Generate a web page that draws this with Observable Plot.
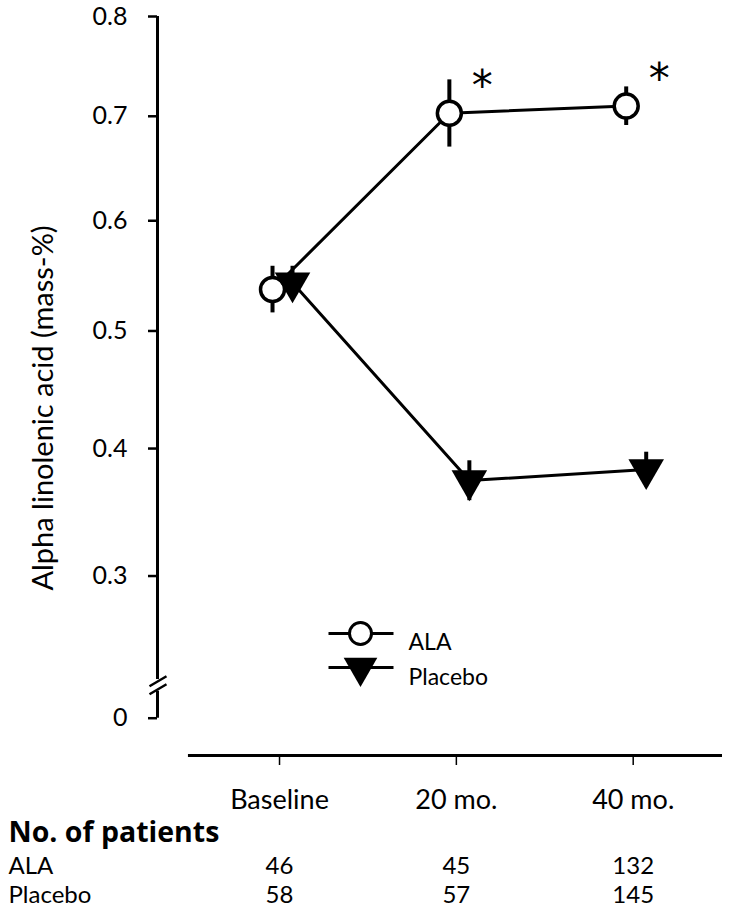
<!DOCTYPE html>
<html><head><meta charset="utf-8">
<script src="https://cdn.jsdelivr.net/npm/d3@7"></script>
<script src="https://cdn.jsdelivr.net/npm/@observablehq/plot@0.6"></script>
<style>
body{margin:0;background:#fff;}
#chart svg{display:block;overflow:visible;}
</style></head><body><div id="chart"></div>
<script>
// ---- data ----
const timepoints = ["Baseline", "20 mo.", "40 mo."];
const alaMean = [0.537, 0.703, 0.710];
const alaErr = [0.021, 0.033, 0.019];
const placeboMean = [0.543, 0.374, 0.383];
const placeboErr = [0.015, 0.016, 0.014];
const significant = [false, true, true];
const seriesNames = ["ALA", "Placebo"];
const yTickValues = [0.2, 0.3, 0.4, 0.5, 0.6, 0.7, 0.8];
const yTickLabels = ["0", "0.3", "0.4", "0.5", "0.6", "0.7", "0.8"];
const yTitle = "Alpha linolenic acid (mass-%)";
const tableTitle = "No. of patients";
const patientsALA = [46, 45, 132];
const patientsPlacebo = [58, 57, 145];

// ---- build tables ----
const ala = timepoints.map((t, i) => ({i, t, mean: alaMean[i], err: alaErr[i], sig: significant[i]}));
const placebo = timepoints.map((t, i) => ({i, t, mean: placeboMean[i], err: placeboErr[i]}));
const tickLabel = new Map(yTickValues.map((v, i) => [v, yTickLabels[i]]));

const xDomain = [-0.69, 2.505];
const yDomain = [0.176, 0.8];
const xAxisStart = -0.515;
const breakLo = 0.218, breakHi = 0.226, breakMid = 0.222;
const dxALA = -7, dxPlacebo = 13;

const slashSymbol = {draw(ctx) {
  ctx.moveTo(-8, 1); ctx.lineTo(9, -9);
  ctx.moveTo(-8, 9); ctx.lineTo(9, -1);
}};
const legendLine = {draw(ctx) { ctx.moveTo(-32, 0); ctx.lineTo(33, 0); }};
const font = "Lato, 'Open Sans', sans-serif";

const chart = Plot.plot({
  width: 732,
  height: 917,
  marginLeft: 157,
  marginRight: 10,
  marginTop: 16,
  marginBottom: 162,
  style: {fontFamily: font, fontSize: "24px", color: "black", background: "white"},
  x: {type: "linear", domain: xDomain},
  y: {type: "pow", exponent: 0.68, domain: yDomain},
  marks: [
    // axes
    Plot.ruleX([xDomain[0]], {y1: yTickValues[0], y2: breakLo, stroke: "black", strokeWidth: 3}),
    Plot.ruleX([xDomain[0]], {y1: breakHi, y2: yDomain[1], stroke: "black", strokeWidth: 3}),
    Plot.dot([breakMid], {x: xDomain[0], y: d => d, symbol: slashSymbol, fill: "none", stroke: "black", strokeWidth: 2.5}),
    Plot.axisY({ticks: yTickValues, tickFormat: d => tickLabel.get(d), tickSize: 9, tickPadding: 21, fontSize: 25, strokeWidth: 2.5, label: null}),
    Plot.ruleY([yDomain[0]], {x1: xAxisStart, x2: xDomain[1], stroke: "black", strokeWidth: 3}),
    Plot.axisX({ticks: [0, 1, 2], tickFormat: i => timepoints[i], tickSize: 10, tickPadding: 24, fontSize: 27, strokeWidth: 1.5, label: null}),
    Plot.text([yTitle], {frameAnchor: "left", rotate: -90, dx: -114, dy: 22, fontSize: 29, textAnchor: "middle", lineAnchor: "middle", text: d => d}),

    // series lines
    Plot.line(ala, {x: "i", y: "mean", dx: dxALA, stroke: "black", strokeWidth: 3}),
    Plot.line(placebo, {x: "i", y: "mean", dx: dxPlacebo, stroke: "black", strokeWidth: 3}),
    // ALA
    Plot.ruleX(ala, {x: "i", y1: d => d.mean - d.err, y2: d => d.mean + d.err, dx: dxALA, stroke: "black", strokeWidth: 4}),
    Plot.dot(ala, {x: "i", y: "mean", dx: dxALA, r: 12, fill: "white", stroke: "black", strokeWidth: 3.5}),
    // Placebo
    Plot.ruleX(placebo, {x: "i", y1: d => d.mean - d.err, y2: d => d.mean + d.err, dx: dxPlacebo, stroke: "black", strokeWidth: 4}),
    Plot.dot(placebo, {x: "i", y: "mean", dx: dxPlacebo, symbol: "triangle", rotate: 180, r: 13.2, fill: "black", stroke: "none"}),
    // significance
    Plot.text(ala.filter(d => d.sig), {x: "i", y: "mean", dx: dxALA + 33, dy: -27, text: () => "*", fontSize: 42, fontFamily: "'DejaVu Sans', sans-serif"}),

    // legend
    Plot.dot([seriesNames[0]], {frameAnchor: "top-left", dx: 203, dy: 617, symbol: legendLine, fill: "none", stroke: "black", strokeWidth: 3}),
    Plot.dot([seriesNames[0]], {frameAnchor: "top-left", dx: 203, dy: 617, r: 11, fill: "white", stroke: "black", strokeWidth: 3}),
    Plot.text([seriesNames[0]], {frameAnchor: "top-left", dx: 251, dy: 617, text: d => d, textAnchor: "start", fontSize: 23}),
    Plot.dot([seriesNames[1]], {frameAnchor: "top-left", dx: 203, dy: 651, symbol: legendLine, fill: "none", stroke: "black", strokeWidth: 3}),
    Plot.dot([seriesNames[1]], {frameAnchor: "top-left", dx: 203, dy: 651, symbol: "triangle", rotate: 180, r: 12.5, fill: "black", stroke: "none"}),
    Plot.text([seriesNames[1]], {frameAnchor: "top-left", dx: 251, dy: 652, text: d => d, textAnchor: "start", fontSize: 23}),

    // patient numbers table
    Plot.text([tableTitle], {frameAnchor: "bottom-left", dx: -149, dy: 86, text: d => d, textAnchor: "start", fontSize: 28.5, fontWeight: "bold", fontFamily: "'Open Sans', sans-serif"}),
    Plot.text([seriesNames[0]], {frameAnchor: "bottom-left", dx: -149, dy: 118, text: d => d, textAnchor: "start", fontSize: 24}),
    Plot.text([seriesNames[1]], {frameAnchor: "bottom-left", dx: -149, dy: 147, text: d => d, textAnchor: "start", fontSize: 24}),
    Plot.text(patientsALA, {x: (d, i) => i, frameAnchor: "bottom", dy: 118, text: d => String(d), fontSize: 24}),
    Plot.text(patientsPlacebo, {x: (d, i) => i, frameAnchor: "bottom", dy: 147, text: d => String(d), fontSize: 24})
  ]
});
document.getElementById("chart").appendChild(chart);
</script>
</body></html>
